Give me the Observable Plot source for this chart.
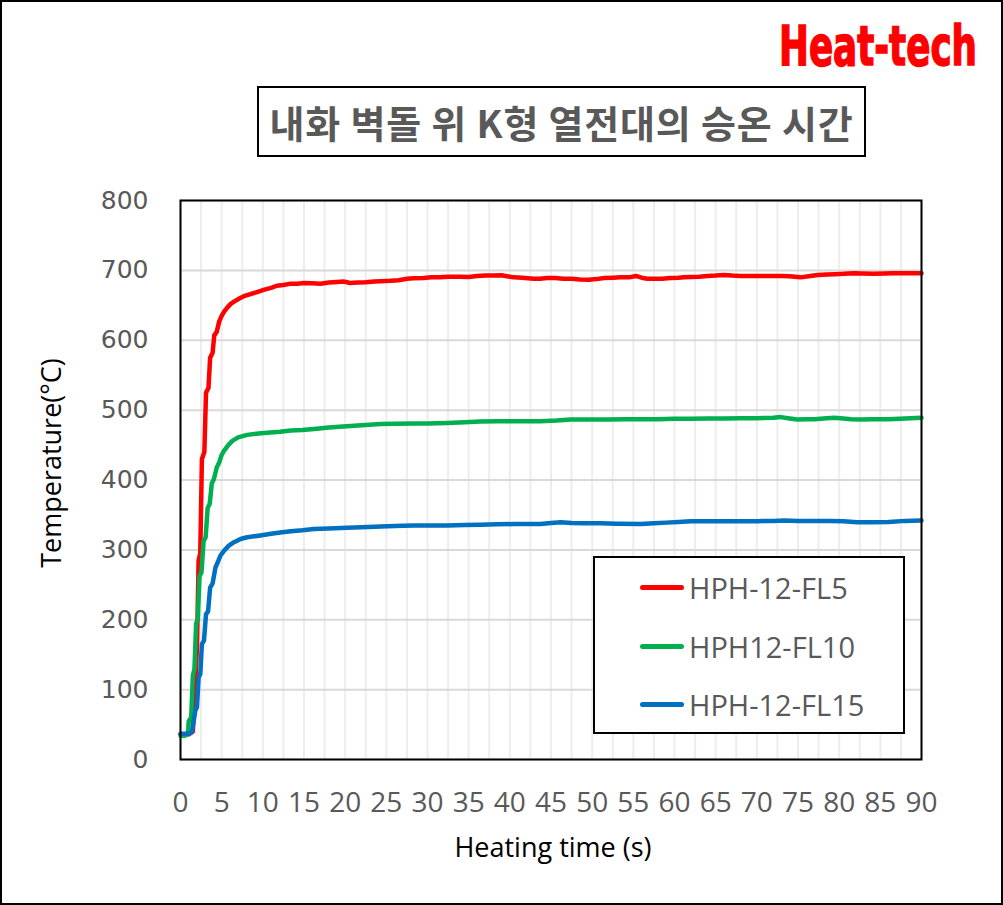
<!DOCTYPE html>
<html>
<head>
<meta charset="utf-8">
<script src="https://cdn.jsdelivr.net/npm/d3@7"></script>
<script src="https://cdn.jsdelivr.net/npm/@observablehq/plot@0.6"></script>
<style>
  html, body { margin: 0; padding: 0; background: white; }
  #wrap { position: relative; width: 1003px; height: 905px; overflow: hidden; background: white; }
  #border { position: absolute; left: 0; top: 0; width: 1003px; height: 905px; box-sizing: border-box; border: 2px solid #000; pointer-events: none; }
  #logo { position: absolute; left: 776px; top: 10px; }
  #title { position: absolute; left: 257px; top: 86px; width: 609px; height: 71px; box-sizing: border-box; border: 2px solid #000;
           display: flex; align-items: center; justify-content: center; font-family: "Noto Sans CJK KR", sans-serif; font-weight: bold;
           font-size: 38px; color: #595959; letter-spacing: 0.8px; background: white; white-space: nowrap; }
  #legend { position: absolute; left: 593px; top: 556px; width: 312px; height: 178px; box-sizing: border-box; border: 2px solid #000; background: white; }
  .item { position: absolute; left: 45px; height: 30px; display: flex; align-items: center; font-family: "Open Sans", sans-serif; font-size: 29px; color: #595959; white-space: nowrap; }
  .swatch { width: 44px; height: 5px; border-radius: 3px; margin-right: 5px; }
  #xtitle { position: absolute; left: 353px; width: 400px; top: 828px; text-align: center; font-family: "Open Sans", sans-serif; font-size: 27px; color: #000; }
  #ytitle { position: absolute; left: 50px; top: 463px; transform: translate(-50%, -50%) rotate(-90deg); font-family: "Open Sans", sans-serif; font-size: 27px; color: #000; white-space: nowrap; }
</style>
</head>
<body>
<div id="wrap"></div>
<script>
// ---- data ----
const series = ["HPH-12-FL5", "HPH12-FL10", "HPH-12-FL15"];
const colors = ["#ff0000", "#00b050", "#0070c0"];

const redTime = [0,0.5,1.0,1.5,1.8,2.0,2.2,2.4,2.6,2.9,3.1,3.4,3.6,3.9,4.1,4.4,4.7,5.0,5.3,5.7,6.1,6.6,7.2,7.7,8.5,9.3,10.1,11,11.7,12.5,13.4,14.2,15,16,17,18,19,19.8,20.6,21.5,22.5,23.5,24.3,25.5,26.5,27.5,28.3,29.5,30.5,31.5,32.5,33.2,34,35,36,37,38,39,40,40.5,41.5,42.9,43.7,44.5,45.5,46.5,47.5,48.5,49.6,50.5,51.5,52.5,53.5,54.5,55.3,56,56.7,57.5,58.5,59.5,60.5,61.1,62,63,64,65,66,67,68,69,70,71,72,73,74,75.3,76.5,77.4,78.5,79.5,80.5,81.8,82.8,84.2,85.5,86.5,87.5,88.5,90];
const redTemp = [36,36,36,40,110,160,285,295,430,440,525,532,575,582,607,612,627,635,641,647,652,656,660,663,666,669,672,675,678,679,681,681,682,681.5,681,682.5,683.5,684,682,682.5,683,684,684.5,685,686,688,688.6,689,690,690,691,691,691,690.5,692,692.5,692.6,693,691,690,689.5,688,688,689,689,688,688,687,686.5,687.5,689,689.5,690,690,692,689.5,688,688,688,689,689.5,690,690.5,691,692,692.5,693.5,692.5,692,692,692,692,692,692,691.5,690,692,693.5,694,694.5,695,696,695.5,695,695.5,696,696,696,696];

const greenTime = [0,0.5,0.9,1.0,1.3,1.5,1.7,1.9,2.1,2.3,2.55,2.8,3.05,3.3,3.55,3.8,4.05,4.4,4.7,5.0,5.3,5.8,6.3,7,8.1,9.5,10.9,12.1,13.4,14.8,16.2,18,20.2,22,24.3,26,28.3,30,32.4,34.5,36.4,38.5,40.5,42,43.7,45.7,47.4,50,52,54,56,58,60,62,64,66,68,70,72,72.9,74,74.9,76,77,78.5,79.4,80.5,81.5,82.6,84,86,88,90];
const greenTemp = [34,34,36,55,60,120,130,195,200,262,268,312,318,360,366,395,401,418,425,436,442,450,456,461,464.6,466.5,468,469,470.8,471.5,473,475,477,478.5,480,480.5,481,481,481.6,482.5,483.7,484,484,484,484,485,486.6,486.6,486.5,487,487,487,487.5,487.5,488,488,488.5,488.5,489,490,488,486.5,487,487,488.5,489,488,487,486.6,487,487,488,489];

const blueTime = [0,0.5,1.0,1.4,1.6,1.8,2.0,2.2,2.4,2.6,2.85,3.1,3.35,3.6,3.9,4.25,4.55,4.86,5.3,5.87,6.5,7.3,8.1,9.7,11,12.1,13.4,14.8,16.2,18,20.2,22,24.3,26,28.3,30,32.4,34.5,36.4,38.5,40.5,42,43.7,45,46.2,47.5,49,51,53,55.9,57.5,59,60.5,62,64,66,68,70,72,73.3,75,77,79,80.5,82.2,84,86,88,90];
const blueTemp = [37,37,37,40,55,70,75,118,122,165,170,208,212,246,252,275,283,292,299,306,311,315.6,318,320.6,323,325,326.6,328,330,330.5,331.5,332.5,333.4,334,335,335,335,335.5,336,336.5,337,337,337,338.5,339.7,338.5,338,338,337.5,337,338,339,340,341,341,341,341,341,341.5,342,341.5,341.5,341.5,341,339.7,339.5,340,341.5,342];

const xTicks = [0,5,10,15,20,25,30,35,40,45,50,55,60,65,70,75,80,85,90];
const xGrid = [0,2.5,5,7.5,10,12.5,15,17.5,20,22.5,25,27.5,30,32.5,35,37.5,40,42.5,45,47.5,50,52.5,55,57.5,60,62.5,65,67.5,70,72.5,75,77.5,80,82.5,85,87.5,90];
const yTicks = [0,100,200,300,400,500,600,700,800];

const titleText = "내화 벽돌 위 K형 열전대의 승온 시간";
const xLabel = "Heating time (s)";
const yLabel = "Temperature(°C)";
const brand = "Heat-tech";

// ---- tidy table ----
const data = [];
[[redTime, redTemp], [greenTime, greenTemp], [blueTime, blueTemp]].forEach(([ts, vs], i) => {
  ts.forEach((t, j) => data.push({s: series[i], t, v: vs[j]}));
});

const chart = Plot.plot({
  width: 1003,
  height: 905,
  marginLeft: 180,
  marginRight: 82,
  marginTop: 200,
  marginBottom: 146,
  style: {fontFamily: "Open Sans, sans-serif", background: "transparent"},
  x: {domain: [0, 90]},
  y: {domain: [0, 800]},
  color: {domain: series, range: colors},
  marks: [
    Plot.ruleX(xGrid, {stroke: "#ededed", strokeWidth: 2}),
    Plot.ruleY(yTicks, {stroke: "#d9d9d9", strokeWidth: 2}),
    Plot.line(data, {x: "t", y: "v", z: "s", stroke: "s", strokeWidth: 4.5, strokeLinejoin: "round", strokeLinecap: "round"}),
    Plot.frame({stroke: "#000", strokeWidth: 2}),
    Plot.axisX({ticks: xTicks, tickSize: 0, tickPadding: 33, tickFormat: d => String(d), label: null, fontSize: 28, color: "#595959"}),
    Plot.axisY({ticks: yTicks, tickSize: 0, tickPadding: 32, tickFormat: d => String(d), label: null, fontSize: 25, color: "#595959"})
  ]
});

const wrap = document.getElementById("wrap");
chart.style.position = "absolute";
chart.style.left = "0px";
chart.style.top = "0px";
wrap.appendChild(chart);

d3.select(chart).selectAll('g[aria-label="x-axis tick label"] text').attr("fill", "#595959").style("font-size", "28px");
d3.select(chart).selectAll('g[aria-label="y-axis tick label"] text').attr("fill", "#595959").style("font-size", "25px").style("font-family", "DejaVu Sans, sans-serif");

// title
const title = document.createElement("div");
title.id = "title";
title.textContent = titleText;
wrap.appendChild(title);

// logo (condensed by a horizontal scale so its box stays inside)
const ns = "http://www.w3.org/2000/svg";
const logo = document.createElementNS(ns, "svg");
logo.setAttribute("id", "logo");
logo.setAttribute("width", "215");
logo.setAttribute("height", "75");
const lg = document.createElementNS(ns, "g");
const lt = document.createElementNS(ns, "text");
lt.setAttribute("x", "0");
lt.setAttribute("y", "0");
lt.setAttribute("font-family", "DejaVu Sans Condensed, DejaVu Sans, sans-serif");
lt.setAttribute("font-weight", "bold");
lt.setAttribute("font-size", "55");
lt.setAttribute("fill", "#ff0000");
lt.setAttribute("stroke", "#ff0000");
lt.setAttribute("stroke-width", "1.5");
lt.textContent = brand;
lg.appendChild(lt);
logo.appendChild(lg);
wrap.appendChild(logo);
const natural = lt.getComputedTextLength() || 250;
const sx = 198 / natural;
lg.setAttribute("transform", `translate(3,55) scale(${sx},1)`);

// legend
const legend = document.createElement("div");
legend.id = "legend";
const rowTops = [14, 73, 131];
series.forEach((name, i) => {
  const item = document.createElement("div");
  item.className = "item";
  item.style.top = rowTops[i] + "px";
  const sw = document.createElement("div");
  sw.className = "swatch";
  sw.style.background = colors[i];
  const tx = document.createElement("span");
  tx.textContent = name;
  item.appendChild(sw);
  item.appendChild(tx);
  legend.appendChild(item);
});
wrap.appendChild(legend);

// axis titles
const xt = document.createElement("div");
xt.id = "xtitle";
xt.textContent = xLabel;
wrap.appendChild(xt);
const yt = document.createElement("div");
yt.id = "ytitle";
yt.textContent = yLabel;
wrap.appendChild(yt);

const border = document.createElement("div");
border.id = "border";
wrap.appendChild(border);
</script>
</body>
</html>
